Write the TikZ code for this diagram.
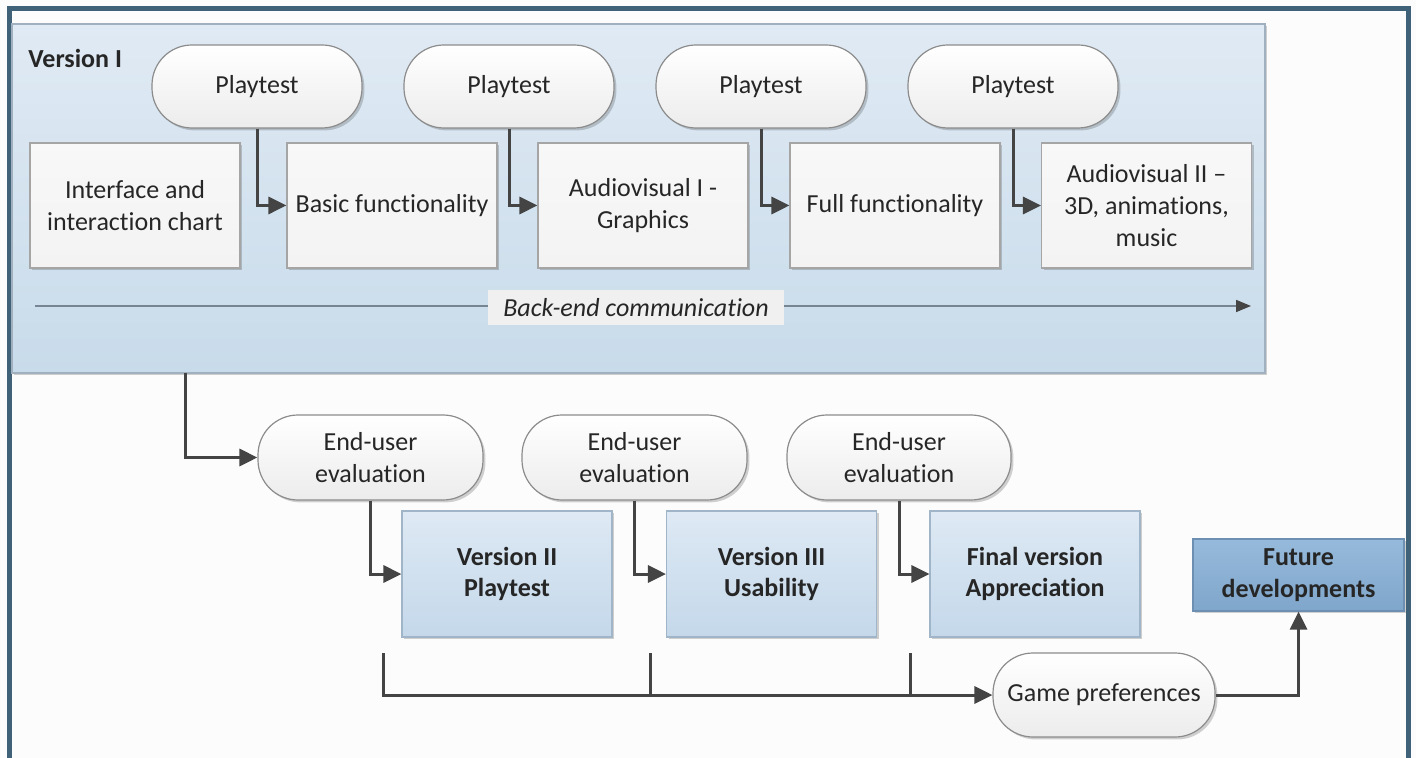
\documentclass[tikz,border=0pt]{standalone}
\usepackage{fontspec}
\setmainfont{Carlito}[Ligatures={NoCommon}]
\usetikzlibrary{arrows.meta,shadows,calc}

\definecolor{frameC}{RGB}{64,98,120}
\definecolor{pageC}{RGB}{252,252,252}
\definecolor{panelTop}{RGB}{224,234,244}
\definecolor{panelBot}{RGB}{200,219,234}
\definecolor{panelLine}{RGB}{160,176,190}
\definecolor{boxFill}{RGB}{243,243,243}
\definecolor{boxLine}{RGB}{165,165,165}
\definecolor{termTop}{RGB}{255,255,255}
\definecolor{termBot}{RGB}{236,236,236}
\definecolor{termLine}{RGB}{140,140,140}
\definecolor{verTop}{RGB}{222,233,244}
\definecolor{verBot}{RGB}{196,216,234}
\definecolor{verLine}{RGB}{160,181,200}
\definecolor{futTop}{RGB}{150,186,219}
\definecolor{futBot}{RGB}{127,166,203}
\definecolor{futLine}{RGB}{108,143,178}
\definecolor{txtC}{RGB}{38,38,38}
\definecolor{arrC}{RGB}{68,68,68}
\definecolor{beLine}{RGB}{120,134,148}
\definecolor{beFill}{RGB}{240,240,240}

\begin{document}
\begin{tikzpicture}[
  x=0.5pt, y=-0.5pt,
  every node/.style={font=\fontsize{13}{15.8}\selectfont, text=txtC, align=center, inner sep=2pt},
  soft/.style={drop shadow={shadow xshift=1.2pt, shadow yshift=-1.2pt, opacity=0.18, fill=black}},
  panelbox/.style={rectangle, draw=panelLine, line width=0.6pt, top color=panelTop, bottom color=panelBot,
    minimum width=626.5pt, minimum height=174.5pt, soft},
  stepbox/.style={rectangle, draw=boxLine, line width=0.6pt, top color=white!40!boxFill, bottom color=boxFill,
    minimum width=105pt, minimum height=62.5pt, soft},
  termin/.style={rectangle, rounded corners=20pt, draw=termLine, line width=0.6pt,
    top color=termTop, bottom color=termBot, minimum width=105pt, minimum height=41.5pt, soft},
  verbox/.style={rectangle, draw=verLine, line width=0.6pt, top color=verTop, bottom color=verBot,
    minimum width=105pt, minimum height=63pt, font=\fontsize{13}{15.8}\selectfont\bfseries, soft},
  futbox/.style={rectangle, draw=futLine, line width=0.6pt, top color=futTop, bottom color=futBot,
    minimum width=105.5pt, minimum height=36pt, font=\fontsize{13}{15.8}\selectfont\bfseries, soft},
  arr/.style={draw=arrC, line width=1.5pt, -{Triangle[length=9pt,width=8.5pt]}},
  plain/.style={draw=arrC, line width=1.5pt},
  bearr/.style={draw=beLine, line width=0.8pt, -{Triangle[length=7.5pt,width=6pt,color=arrC]}},
  belabel/.style={rectangle, fill=beFill, minimum width=148pt, minimum height=17.5pt,
    font=\fontsize{13}{15.8}\selectfont\itshape}
]
\useasboundingbox (0,0) rectangle (1416,758);

% page and outer frame
\fill[pageC] (0,0) rectangle (1416,758);
\draw[frameC, line width=2.5pt] (9,820) -- (9,8.5) -- (1408.5,8.5) -- (1408.5,820);

% Version I panel
\node[panelbox] (panel) at (638.5,198.5) {};
\node[anchor=base west, font=\fontsize{13}{15.8}\selectfont\bfseries, inner sep=0pt] (vtitle) at (28,68) {Version I};

% playtests
\node[termin] (p1) at (257,86.5) {Playtest};
\node[termin] (p2) at (509,86.5) {Playtest};
\node[termin] (p3) at (761,86.5) {Playtest};
\node[termin] (p4) at (1013,86.5) {Playtest};

% development steps
\node[stepbox] (b1) at (135,205.5) {Interface and\\interaction chart};
\node[stepbox] (b2) at (392,205.5) {Basic functionality};
\node[stepbox] (b3) at (643,205.5) {Audiovisual I -\\Graphics};
\node[stepbox] (b4) at (895,205.5) {Full functionality};
\node[stepbox] (b5) at (1146.5,205.5) {Audiovisual II --\\3D, animations,\\music};

\draw[arr] (p1.south) |- (b2.west);
\draw[arr] (p2.south) |- (b3.west);
\draw[arr] (p3.south) |- (b4.west);
\draw[arr] (p4.south) |- (b5.west);

% back-end communication
\coordinate (be0) at (35,306);
\coordinate (be1) at (1251,306);
\draw[bearr] (be0) -- (be1);
\node[belabel] (be) at (636,307.5) {Back-end communication};

% evaluations
\node[termin, minimum width=112.5pt, minimum height=42.5pt] (e1) at (370.5,457.5) {End-user\\evaluation};
\node[termin, minimum width=112.5pt, minimum height=42.5pt] (e2) at (634.5,457.5) {End-user\\evaluation};
\node[termin, minimum width=112pt, minimum height=42.5pt] (e3) at (899,457.5) {End-user\\evaluation};

\node[verbox] (v2) at (507,574) {Version II\\Playtest};
\node[verbox] (v3) at (771.5,574) {Version III\\Usability};
\node[verbox] (v4) at (1035,574) {Final version\\Appreciation};
\node[futbox] (fd) at (1298.5,575) {Future\\developments};

\node[termin, minimum width=111pt, minimum height=42pt] (gp) at (1104,695) {Game preferences};

\coordinate (vout) at (185,373);
\draw[arr] (vout) |- (e1.west);
\draw[arr] (e1.south) |- (v2.west);
\draw[arr] (e2.south) |- (v3.west);
\draw[arr] (e3.south) |- (v4.west);

% collector towards game preferences
\coordinate (t1) at (383,653);
\coordinate (t2) at (650,653);
\coordinate (t3) at (910,653);
\draw[arr] (t1) |- (gp.west);
\draw[plain] (t2) -- (t2 |- gp.west);
\draw[plain] (t3) -- (t3 |- gp.west);
\draw[arr] (gp.east) -| (fd.south);
\end{tikzpicture}
\end{document}
